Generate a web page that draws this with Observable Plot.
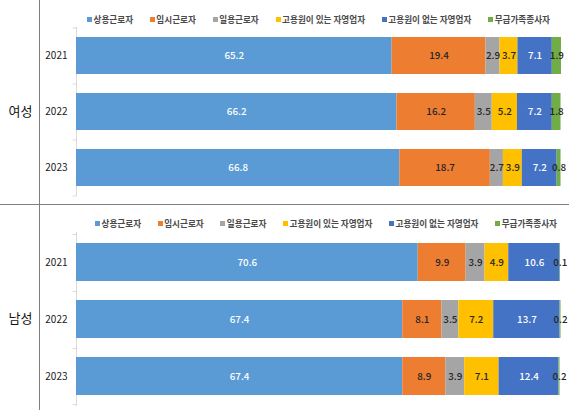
<!DOCTYPE html>
<html>
<head>
<meta charset="utf-8">
<script src="https://cdn.jsdelivr.net/npm/d3@7"></script>
<script src="https://cdn.jsdelivr.net/npm/@observablehq/plot@0.6"></script>
<style>
  body { margin: 0; background: #fff; }
  #chart { position: relative; width: 569px; height: 410px; background: #fff; font-family: 'Noto Sans CJK KR', sans-serif; overflow: hidden; }
  .panel { position: absolute; left: 0; }
  .legend { position: absolute; display: flex; justify-content: space-between; align-items: center; height: 12px; font-size: 8.6px; font-weight: 600; color: #4a4a4a; white-space: nowrap; }
  .item { display: flex; align-items: center; }
  .sw { display: inline-block; width: 5px; height: 5px; margin-right: 1.5px; }
  .vline { position: absolute; left: 38.5px; top: 0; width: 1px; height: 410px; background: #7f7f7f; }
  .hline { position: absolute; left: 0; top: 204px; width: 569px; height: 1px; background: #7f7f7f; }
</style>
</head>
<body>
<div id="chart"></div>
<script>
const years = ["2021", "2022", "2023"];
const categories = ["상용근로자", "임시근로자", "일용근로자", "고용원이 있는 자영업자", "고용원이 없는 자영업자", "무급가족종사자"];
const colors = ["#5B9BD5", "#ED7D31", "#A5A5A5", "#FFC000", "#4472C4", "#70AD47"];
const whiteLabelCategories = ["상용근로자", "고용원이 없는 자영업자"];

const female2021 = [65.2, 19.4, 2.9, 3.7, 7.1, 1.9];
const female2022 = [66.2, 16.2, 3.5, 5.2, 7.2, 1.8];
const female2023 = [66.8, 18.7, 2.7, 3.9, 7.2, 0.8];
const male2021 = [70.6, 9.9, 3.9, 4.9, 10.6, 0.1];
const male2022 = [67.4, 8.1, 3.5, 7.2, 13.7, 0.2];
const male2023 = [67.4, 8.9, 3.9, 7.1, 12.4, 0.2];

const panels = [
  {label: "여성", series: [female2021, female2022, female2023], top: 0, height: 205, marginTop: 27, marginBottom: 10, legendLeft: 87, legendTop: 13, legendWidth: 463},
  {label: "남성", series: [male2021, male2022, male2023], top: 205, height: 205, marginTop: 27, marginBottom: 5, legendLeft: 95, legendTop: 217, legendWidth: 462}
];

const chart = document.getElementById("chart");

for (const p of panels) {
  const rows = [];
  years.forEach((year, i) => {
    categories.forEach((category, j) => {
      rows.push({year, category, value: p.series[i][j]});
    });
  });

  const isWhite = d => whiteLabelCategories.includes(d.category);
  const fmt = d => d.value.toFixed(1);

  const plot = Plot.plot({
    width: 569,
    height: p.height,
    marginLeft: 76,
    marginRight: 8,
    marginTop: p.marginTop,
    marginBottom: p.marginBottom,
    style: {fontFamily: "'Noto Sans CJK KR', sans-serif", background: "transparent"},
    x: {domain: [0, 100.2], axis: null},
    y: {domain: years, paddingInner: 0.34, paddingOuter: 0.17, axis: null},
    color: {domain: categories, range: colors},
    marks: [
      Plot.frame({anchor: "left", stroke: "#d9d9d9"}),
      Plot.ruleY(years, {y: d => d, x1: -0.7, x2: 0, dy: -28, stroke: "#d9d9d9"}),
      Plot.ruleY(years.slice(-1), {y: d => d, x1: -0.7, x2: 0, dy: 28, stroke: "#d9d9d9"}),
      Plot.barX(rows, Plot.stackX({x: "value", y: "year", fill: "category"})),
      Plot.text(rows, Plot.stackX({x: "value", y: "year", z: "category", text: d => isWhite(d) ? fmt(d) : "", fill: "white", fontSize: 9.8, fontWeight: 500})),
      Plot.text(rows, Plot.stackX({x: "value", y: "year", z: "category", text: d => isWhite(d) ? "" : fmt(d), fill: "#262626", fontSize: 9.8, fontWeight: 500})),
      Plot.axisY({tickSize: 0, tickPadding: 9, fontSize: 10, fill: "#1a1a1a", label: null}),
      Plot.text([p.label], {text: d => d, frameAnchor: "left", dx: -56, textAnchor: "middle", fontSize: 13, fill: "#111"})
    ]
  });
  plot.classList.add("panel");
  plot.style.top = p.top + "px";
  chart.appendChild(plot);

  const legend = document.createElement("div");
  legend.className = "legend";
  legend.style.left = p.legendLeft + "px";
  legend.style.top = p.legendTop + "px";
  legend.style.width = p.legendWidth + "px";
  categories.forEach((c, i) => {
    const item = document.createElement("span");
    item.className = "item";
    const sw = document.createElement("span");
    sw.className = "sw";
    sw.style.background = colors[i];
    item.appendChild(sw);
    item.appendChild(document.createTextNode(c));
    legend.appendChild(item);
  });
  chart.appendChild(legend);
}

const v = document.createElement("div"); v.className = "vline"; chart.appendChild(v);
const h = document.createElement("div"); h.className = "hline"; chart.appendChild(h);
</script>
</body>
</html>
